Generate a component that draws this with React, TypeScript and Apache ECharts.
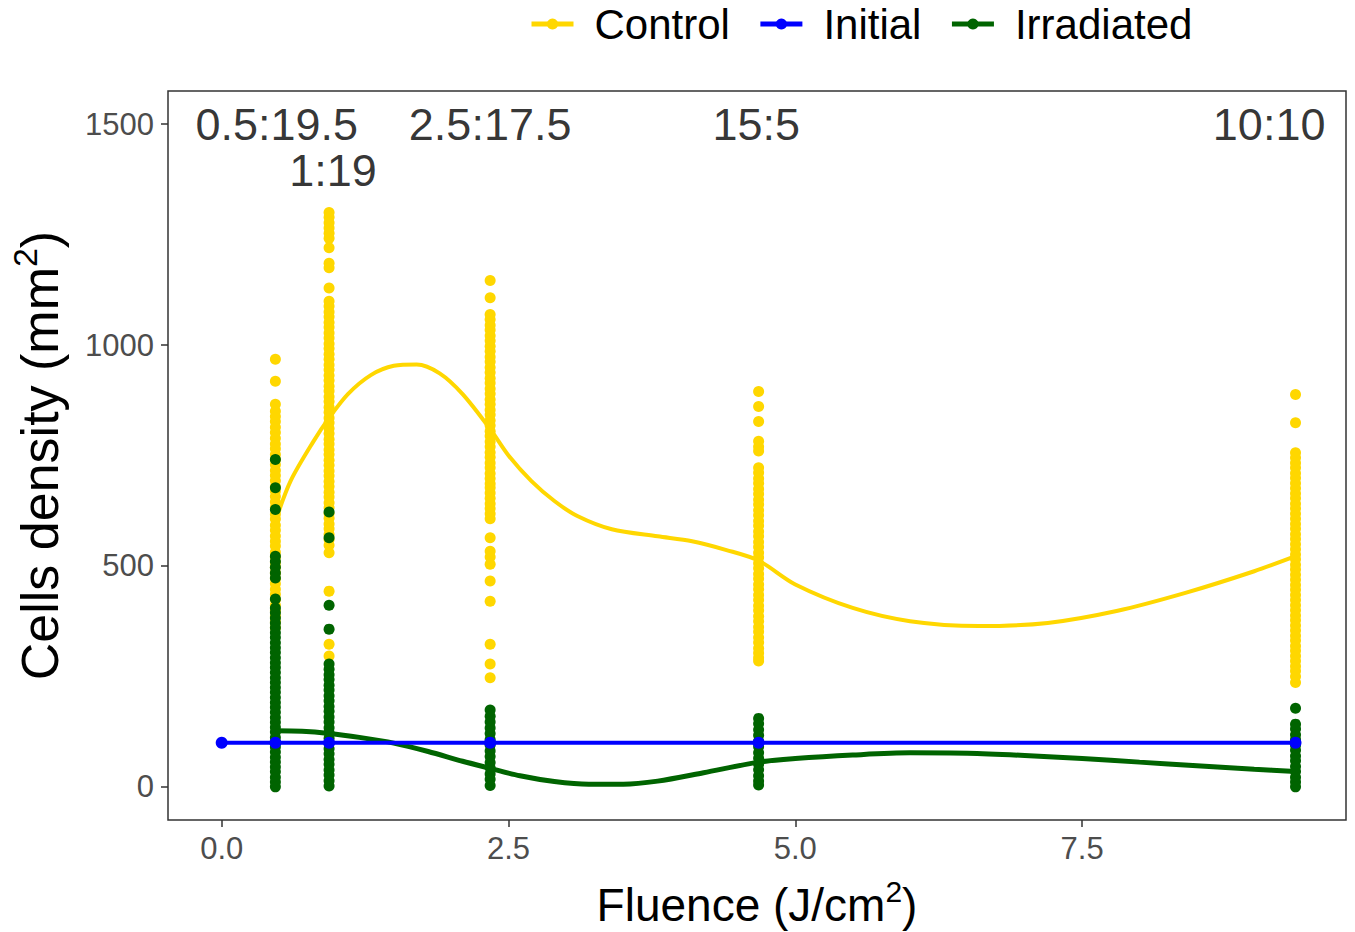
import { useEffect, useRef } from 'react';
import * as echarts from 'echarts';

// fluence at which the samples were read (J/cm2)
const fluence = [0.468, 0.936, 2.34, 4.68, 9.36];

// Control cell densities, one array per fluence column
const control1 = [968, 918, 866, 850, 838, 827, 814, 802, 789, 776, 765, 752, 741, 729, 716, 705, 693, 680, 669, 657, 645, 633, 617, 606, 592, 581, 568, 556, 545, 531, 520, 508, 497, 484, 471, 460, 447, 436, 424, 411, 398, 386, 373, 360];
const control2 = [1300, 1289, 1277, 1265, 1253, 1242, 1220, 1185, 1175, 1129, 1099, 1088, 1075, 1064, 1051, 1040, 1027, 1016, 1003, 992, 979, 968, 955, 944, 931, 920, 907, 896, 883, 872, 859, 848, 835, 824, 811, 800, 787, 776, 763, 752, 739, 728, 715, 704, 691, 680, 667, 656, 643, 632, 619, 608, 595, 584, 571, 560, 547, 530, 443, 323, 296];
const control3 = [1146, 1107, 1069, 1058, 1045, 1034, 1021, 1010, 997, 986, 973, 962, 949, 938, 925, 914, 901, 890, 877, 866, 853, 842, 829, 818, 805, 794, 781, 770, 757, 746, 733, 722, 709, 698, 686, 677, 665, 653, 641, 630, 618, 607, 564, 533, 520, 504, 466, 420, 323, 278, 247];
const control4 = [895, 861, 827, 782, 770, 760, 722, 711, 698, 687, 674, 663, 650, 639, 626, 615, 602, 591, 578, 567, 554, 543, 530, 519, 506, 495, 482, 471, 458, 447, 434, 423, 410, 399, 386, 375, 362, 351, 338, 327, 314, 303, 292, 285];
const control5 = [888, 824, 756, 745, 733, 722, 710, 699, 687, 676, 664, 653, 641, 630, 618, 607, 595, 584, 572, 561, 549, 538, 526, 515, 503, 492, 480, 469, 457, 446, 434, 423, 411, 400, 388, 377, 365, 354, 342, 331, 319, 308, 296, 285, 273, 262, 250, 236];

// Irradiated cell densities, one array per fluence column
const irradiated1 = [741, 677, 628, 522, 510, 497, 484, 473, 425, 405, 394, 382, 371, 360, 349, 338, 326, 315, 304, 292, 281, 270, 259, 247, 236, 225, 214, 202, 191, 180, 169, 157, 146, 135, 124, 112, 101, 90, 79, 67, 56, 45, 34, 22, 11, 0];
const irradiated2 = [622, 564, 411, 357, 278, 266, 254, 243, 230, 219, 206, 195, 182, 171, 158, 147, 134, 123, 110, 99, 86, 75, 62, 51, 38, 27, 14, 2];
const irradiated3 = [174, 160, 147, 133, 121, 107, 95, 81, 69, 55, 43, 29, 17, 3];
const irradiated4 = [155, 143, 129, 117, 103, 91, 77, 65, 51, 39, 25, 13, 4];
const irradiated5 = [178, 142, 131, 118, 107, 94, 83, 70, 59, 46, 35, 22, 11, 0];

// smoothed trend lines
const controlFitX = [0.468, 0.6, 0.8, 0.936, 1.1, 1.3, 1.5, 1.7, 1.9, 2.1, 2.34, 2.5, 2.7, 2.9, 3.1, 3.4, 3.8, 4.1, 4.4, 4.68, 5.0, 5.5, 6.0, 6.6, 7.2, 7.8, 8.4, 9.0, 9.36];
const controlFitY = [601, 692, 782, 835, 889, 932, 953, 956, 936, 889, 810, 750, 692, 647, 613, 583, 567, 556, 536, 512, 458, 405, 375, 364, 371, 398, 439, 488, 522];
const irradiatedFitX = [0.468, 0.7, 0.936, 1.2, 1.5, 1.8, 2.1, 2.34, 2.6, 2.9, 3.2, 3.5, 3.8, 4.2, 4.68, 5.0, 5.5, 6.0, 6.5, 7.0, 7.5, 8.0, 8.5, 9.0, 9.36];
const irradiatedFitY = [127, 126, 121, 112, 99, 80, 58, 42, 25, 12, 6, 6, 13, 32, 56, 64, 72, 77, 76, 71, 64, 56, 48, 40, 35];

// initial density
const initialX = [0, 0.468, 0.936, 2.34, 4.68, 9.36];
const initialY = [100, 100, 100, 100, 100, 100];

// ratio annotations above the columns
const ratioLabels = ['0.5:19.5', '1:19', '2.5:17.5', '15:5', '10:10'];
const ratioX = [0.48, 0.97, 2.34, 4.66, 9.13];
const ratioY = [1500, 1395, 1500, 1500, 1500];

const xTicks = [0, 2.5, 5, 7.5];
const yTicks = [0, 500, 1000, 1500];

const FONT = "'Liberation Sans', Arial, sans-serif";
const YELLOW = '#FFD700';
const GREEN = '#006400';
const BLUE = '#0000FF';

const toPoints = (cols: number[][]) =>
    cols.flatMap((col, i) => col.map((v) => [fluence[i], v]));

const App = () => {
    const chartRef = useRef<HTMLDivElement | null>(null);

    useEffect(() => {
        if (!chartRef.current) return;
        const myChart = echarts.init(chartRef.current, null, { renderer: 'svg' });

        const controlPts = toPoints([control1, control2, control3, control4, control5]);
        const irradiatedPts = toPoints([irradiated1, irradiated2, irradiated3, irradiated4, irradiated5]);

        const option = {
            animation: false,
            textStyle: { fontFamily: FONT },
            legend: {
                data: ['Control', 'Initial', 'Irradiated'],
                top: -2,
                left: 524,
                itemWidth: 42,
                itemHeight: 14,
                itemGap: 28,
                lineStyle: { width: 5 },
                textStyle: { fontSize: 42, color: '#000', fontFamily: FONT, padding: [0, 0, 0, 16] },
            },
            grid: {
                left: 168,
                right: 9,
                top: 91,
                bottom: 112,
                show: true,
                borderColor: '#333',
                borderWidth: 1.5,
                outerBoundsMode: 'none',
            },
            xAxis: {
                type: 'value',
                min: -0.468,
                max: 9.8,
                name: '{t|Fluence (J/cm}{s|2}{t|)}',
                nameLocation: 'middle',
                nameGap: 56,
                nameTextStyle: {
                    rich: {
                        t: { fontSize: 46, color: '#000', fontFamily: FONT },
                        s: { fontSize: 30, color: '#000', fontFamily: FONT, padding: [0, 0, 28, 0] },
                    },
                },
                axisLine: { show: false, onZero: false },
                splitLine: { show: false },
                axisTick: { show: true, length: 7, customValues: xTicks, lineStyle: { color: '#333', width: 1.5 } },
                axisLabel: {
                    customValues: xTicks,
                    formatter: (v: number) => v.toFixed(1),
                    fontSize: 31,
                    color: '#4D4D4D',
                    margin: 13,
                    fontFamily: FONT,
                },
            },
            yAxis: {
                type: 'value',
                min: -75,
                max: 1575,
                name: '{t|Cells density (mm}{s|2}{t|)}',
                nameLocation: 'middle',
                nameRotate: 90,
                nameGap: 96,
                nameTextStyle: {
                    rich: {
                        t: { fontSize: 52, color: '#000', fontFamily: FONT },
                        s: { fontSize: 34, color: '#000', fontFamily: FONT, padding: [0, 0, 30, 0] },
                    },
                },
                axisLine: { show: false, onZero: false },
                splitLine: { show: false },
                axisTick: { show: true, length: 7, customValues: yTicks, lineStyle: { color: '#333', width: 1.5 } },
                axisLabel: {
                    customValues: yTicks,
                    formatter: (v: number) => String(v),
                    fontSize: 31,
                    color: '#4D4D4D',
                    margin: 14,
                    fontFamily: FONT,
                },
            },
            series: [
                {
                    name: 'Control',
                    type: 'line',
                    data: controlFitX.map((x, i) => [x, controlFitY[i]]),
                    smooth: 0.3,
                    symbol: 'circle',
                    symbolSize: 12,
                    showSymbol: false,
                    lineStyle: { color: YELLOW, width: 4 },
                    itemStyle: { color: YELLOW },
                    z: 3,
                },
                {
                    name: 'Control',
                    type: 'scatter',
                    data: controlPts,
                    symbolSize: 11,
                    itemStyle: { color: YELLOW, opacity: 1 },
                    z: 2,
                },
                {
                    name: 'Irradiated',
                    type: 'line',
                    data: irradiatedFitX.map((x, i) => [x, irradiatedFitY[i]]),
                    smooth: 0.3,
                    symbol: 'circle',
                    symbolSize: 12,
                    showSymbol: false,
                    lineStyle: { color: GREEN, width: 5 },
                    itemStyle: { color: GREEN },
                    z: 5,
                },
                {
                    name: 'Irradiated',
                    type: 'scatter',
                    data: irradiatedPts,
                    symbolSize: 11,
                    itemStyle: { color: GREEN, opacity: 1 },
                    z: 4,
                },
                {
                    name: 'Initial',
                    type: 'line',
                    data: initialX.map((x, i) => [x, initialY[i]]),
                    symbol: 'circle',
                    symbolSize: 12,
                    showSymbol: true,
                    lineStyle: { color: BLUE, width: 4 },
                    itemStyle: { color: BLUE },
                    z: 6,
                },
                {
                    name: 'ratios',
                    type: 'scatter',
                    data: ratioX.map((x, i) => [x, ratioY[i], ratioLabels[i]]),
                    symbolSize: 0,
                    silent: true,
                    label: {
                        show: true,
                        position: 'inside',
                        formatter: (p: any) => p.data[2],
                        fontSize: 45,
                        lineHeight: 40,
                        color: '#000',
                        fontFamily: FONT,
                    },
                    z: 7,
                },
            ],
        };

        myChart.setOption(option);

        return () => {
            myChart.dispose();
        };
    }, []);

    return (
        <div
            ref={chartRef}
            style={{ position: 'fixed', left: 0, top: 0, width: '1355px', height: '932px', background: '#fff' }}
        />
    );
};

export default App;
